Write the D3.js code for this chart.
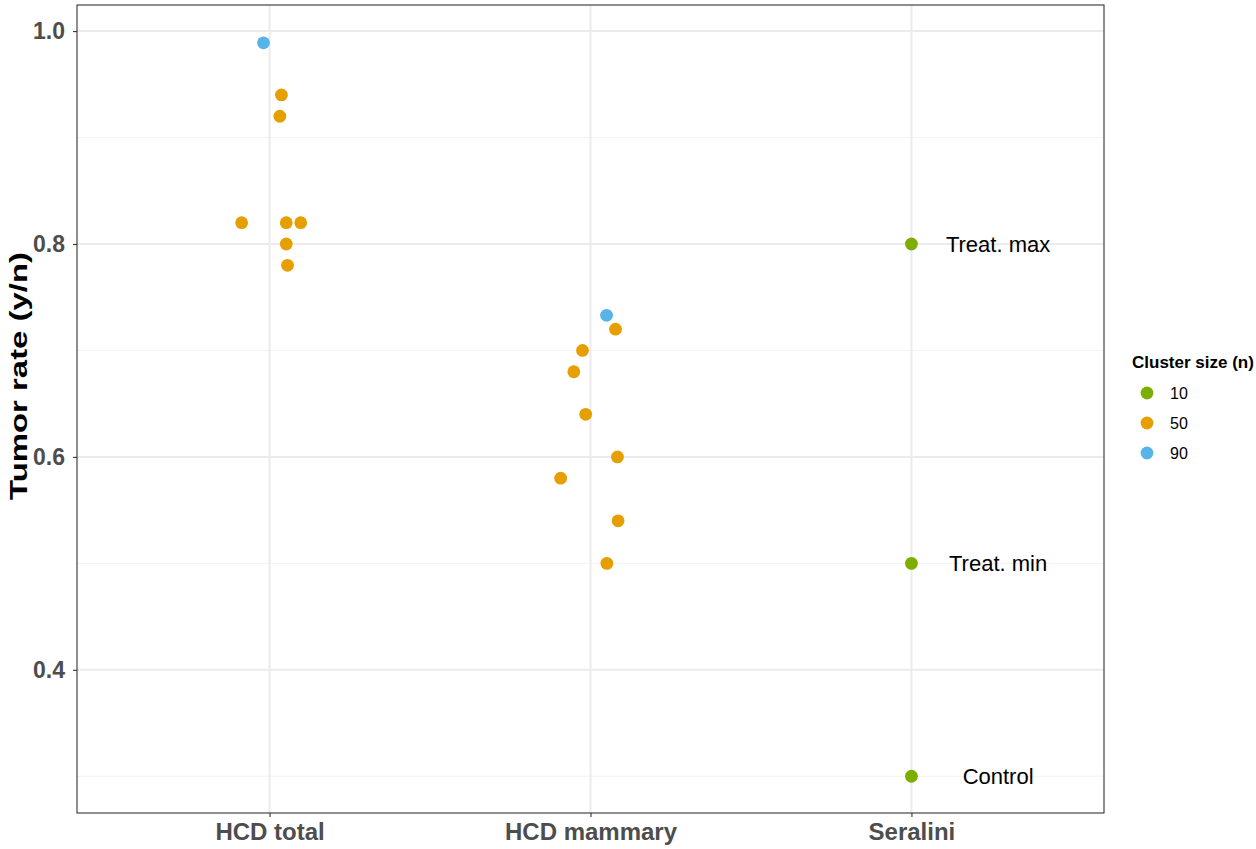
<!DOCTYPE html>
<html><head><meta charset="utf-8">
<script src="https://cdn.jsdelivr.net/npm/d3@7"></script>
<style>body{margin:0;background:#fff;} svg{display:block;font-family:"Liberation Sans",Arial,sans-serif;}</style>
</head><body>
<svg id="chart" width="1256" height="849"></svg>
<script>
// ---- data ----
const categories = ["HCD total", "HCD mammary", "Seralini"];
const pointGroup = ["HCD total","HCD total","HCD total","HCD total","HCD total","HCD total","HCD total","HCD total",
  "HCD mammary","HCD mammary","HCD mammary","HCD mammary","HCD mammary","HCD mammary","HCD mammary","HCD mammary","HCD mammary",
  "Seralini","Seralini","Seralini"];
const tumorRate = [0.989,0.94,0.92,0.82,0.82,0.82,0.80,0.78,
  0.733,0.72,0.70,0.68,0.64,0.60,0.58,0.54,0.50,
  0.80,0.50,0.30];
const jitter = [-0.019,0.037,0.032,-0.087,0.052,0.097,0.052,0.056,
  0.050,0.078,-0.025,-0.052,-0.015,0.084,-0.093,0.086,0.051,
  0,0,0];
const clusterSize = [90,50,50,50,50,50,50,50,
  90,50,50,50,50,50,50,50,50,
  10,10,10];
const seraliniLabels = ["Treat. max","Treat. min","Control"];
const seraliniValues = [0.80,0.50,0.30];
const labelNudge = 0.27;
const legendSizes = [10,50,90];
const sizeColors = ["#7CAE00","#E69F00","#56B4E9"];
const yTicks = [0.4,0.6,0.8,1.0];
const yMinor = [0.3,0.5,0.7,0.9];

// ---- layout ----
const L = 77, R = 1104, T = 5, B = 813;
const svg = d3.select("#chart");
const x = d3.scaleLinear().domain([0.4, 3.6]).range([L, R]);
const y = d3.scaleLinear().domain([0.2655, 1.0245]).range([B, T]);
const color = d3.scaleOrdinal().domain(legendSizes).range(sizeColors);
const catIdx = c => categories.indexOf(c) + 1;

// grid
const g = svg.append("g");
g.selectAll(".ymin").data(yMinor).enter().append("line")
  .attr("x1", L).attr("x2", R).attr("y1", d => y(d)).attr("y2", d => y(d))
  .attr("stroke", "#F3F3F3").attr("stroke-width", 1);
g.selectAll(".ymaj").data(yTicks).enter().append("line")
  .attr("x1", L).attr("x2", R).attr("y1", d => y(d)).attr("y2", d => y(d))
  .attr("stroke", "#EBEBEB").attr("stroke-width", 2);
g.selectAll(".xmaj").data(categories).enter().append("line")
  .attr("y1", T).attr("y2", B).attr("x1", d => x(catIdx(d))).attr("x2", d => x(catIdx(d)))
  .attr("stroke", "#EBEBEB").attr("stroke-width", 2);

// points
const pts = tumorRate.map((v, i) => ({v, g: pointGroup[i], j: jitter[i], n: clusterSize[i]}));
svg.append("g").selectAll("circle").data(pts).enter().append("circle")
  .attr("cx", d => x(catIdx(d.g) + d.j)).attr("cy", d => y(d.v))
  .attr("r", 6.4).attr("fill", d => color(d.n));

// seralini labels
svg.append("g").selectAll("text").data(seraliniLabels).enter().append("text")
  .attr("x", x(catIdx("Seralini") + labelNudge)).attr("y", (d, i) => y(seraliniValues[i]))
  .attr("dy", "0.35em").attr("text-anchor", "middle")
  .attr("font-size", 22).attr("fill", "#000").text(d => d);

// panel border
svg.append("rect").attr("x", L).attr("y", T).attr("width", R - L).attr("height", B - T)
  .attr("fill", "none").attr("stroke", "#333333").attr("stroke-width", 1.1);

// y axis
const ya = svg.append("g").attr("transform", `translate(${L},0)`)
  .call(d3.axisLeft(y).tickValues(yTicks).tickFormat(d3.format(".1f")).tickSize(4).tickPadding(8));
ya.select(".domain").remove();
ya.selectAll(".tick line").attr("stroke", "#333333").attr("stroke-width", 1.1);
ya.selectAll(".tick text").attr("font-size", 23).attr("font-weight", "bold").attr("fill", "#4D4D4D")
  .attr("font-family", "Liberation Sans, Arial, sans-serif");

// x axis
const xa = svg.append("g").attr("transform", `translate(0,${B})`)
  .call(d3.axisBottom(x).tickValues(categories.map((c, i) => i + 1)).tickFormat(d => categories[d - 1]).tickSize(4).tickPadding(6));
xa.select(".domain").remove();
xa.selectAll(".tick line").attr("stroke", "#333333").attr("stroke-width", 1.1);
xa.selectAll(".tick text").attr("font-size", 24).attr("font-weight", "bold").attr("fill", "#4D4D4D")
  .attr("font-family", "Liberation Sans, Arial, sans-serif");

// y title
svg.append("text").attr("transform", `translate(27,${(T + B) / 2 - 33}) rotate(-90)`)
  .attr("text-anchor", "middle").attr("font-size", 24).attr("font-weight", "bold").attr("fill", "#000")
  .attr("textLength", 248).attr("lengthAdjust", "spacingAndGlyphs")
  .text("Tumor rate (y/n)");

// legend
const lg = svg.append("g");
lg.append("text").attr("x", 1132).attr("y", 368).attr("font-size", 17).attr("font-weight", "bold")
  .attr("fill", "#000").text("Cluster size (n)");
const items = lg.selectAll(".li").data(legendSizes).enter().append("g")
  .attr("transform", (d, i) => `translate(0,${393 + i * 30})`);
items.append("circle").attr("cx", 1147).attr("cy", 0).attr("r", 6.4).attr("fill", d => color(d));
items.append("text").attr("x", 1170).attr("y", 0).attr("dy", "0.35em").attr("font-size", 16)
  .attr("fill", "#000").text(d => d);
</script>
</body></html>
